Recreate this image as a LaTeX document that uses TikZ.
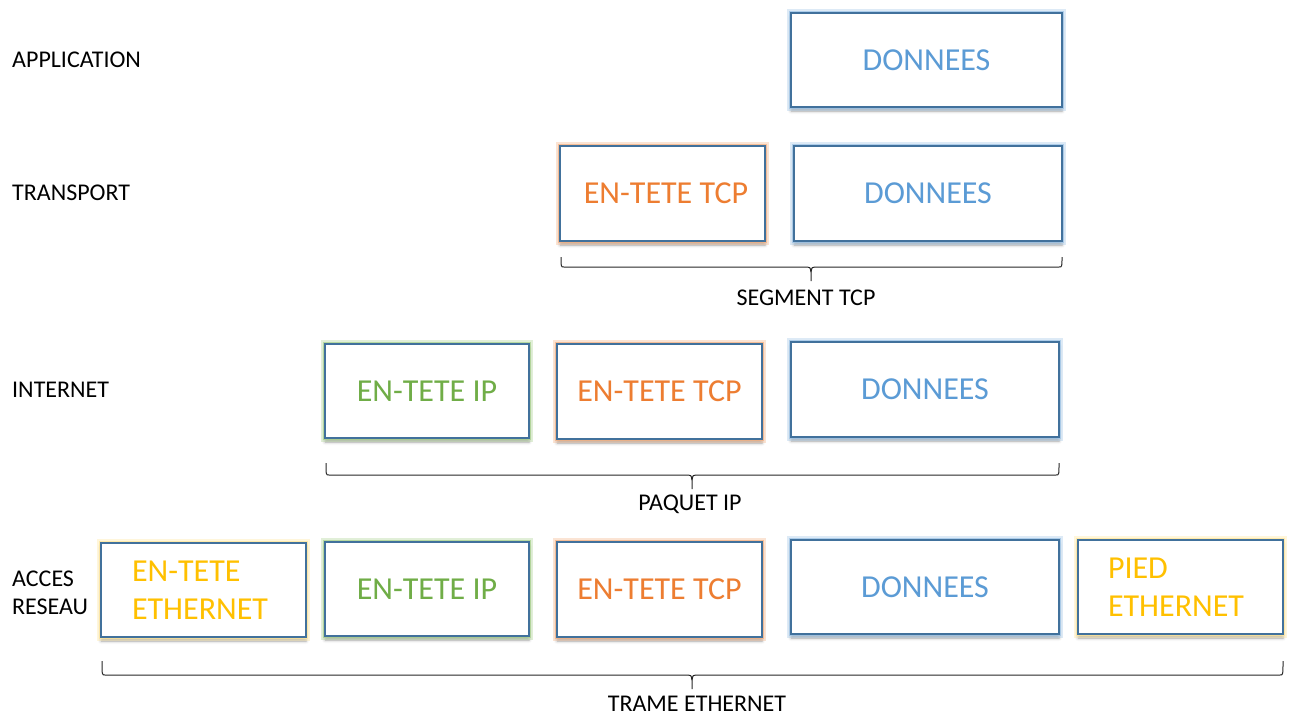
\documentclass[tikz,border=0pt]{standalone}
\usepackage{fontspec}
\setmainfont{Carlito}
\usetikzlibrary{shadows.blur}
\definecolor{cBlue}{HTML}{5B9BD5}
\definecolor{cOrange}{HTML}{ED7D31}
\definecolor{cGreen}{HTML}{70AD47}
\definecolor{cGold}{HTML}{FFC000}
\definecolor{cBorder}{HTML}{41719C}
\definecolor{cGlowBlue}{HTML}{9DC3E6}
\definecolor{cGlowOrange}{HTML}{F4B183}
\definecolor{cGlowGreen}{HTML}{A9D18E}
\definecolor{cGlowGold}{HTML}{FFE699}
\tikzset{
  box/.style={
    blur shadow={shadow xshift=0pt, shadow yshift=-4pt, shadow blur radius=3pt, shadow opacity=35},
    preaction={draw=#1, line width=8pt, draw opacity=0.35},
    preaction={draw=#1, line width=4.5pt, draw opacity=0.75},
    draw=cBorder, line width=1.1pt, fill=white, inner sep=0pt,
    font=\fontsize{32}{38}\selectfont},
  lbl/.style={inner sep=0pt, font=\fontsize{24}{28.5}\selectfont, text=black},
  bracel/.style={draw=black!85, line width=1pt}
}
\newcommand{\mybrace}[5]{% L R tipx liney topy
  \draw[bracel] (#1,#5) .. controls (#1,#4) and (#1,#4) .. (#1+3,#4) -- (#3-4,#4)
     .. controls (#3-1,#4) .. (#3,#4+5) -- (#3,#4+14);
  \draw[bracel] (#3,#4+5) .. controls (#3+1,#4) .. (#3+4,#4) -- (#2-3,#4)
     .. controls (#2,#4) and (#2,#4) .. (#2,#5);
}
\begin{document}
\begin{tikzpicture}[x=1pt,y=-1pt]
\useasboundingbox (0,0) rectangle (1298,724);
% left labels
\node[lbl, anchor=west] (lApp) at (12,60) {APPLICATION};
\node[lbl, anchor=west] (lTr) at (12,193) {TRANSPORT};
\node[lbl, anchor=west] (lIn) at (12,390) {INTERNET};
\node[lbl, anchor=west, align=left] (lAc) at (12,593) {ACCES\\RESEAU};
% application
\node[box=cGlowBlue, text=cBlue, minimum width=271pt, minimum height=94pt] (appD) at (926.5,60) {DONNEES};
% transport
\node[box=cGlowOrange, text=cOrange, minimum width=205pt, minimum height=95pt] (trT) at (662.5,193.5) {\hspace{7pt}EN-TETE TCP};
\node[box=cGlowBlue, text=cBlue, minimum width=268pt, minimum height=95pt] (trD) at (928,193.5) {DONNEES};
% internet
\node[box=cGlowGreen, text=cGreen, minimum width=204pt, minimum height=94pt] (inIP) at (427,391) {EN-TETE IP};
\node[box=cGlowOrange, text=cOrange, minimum width=205pt, minimum height=95pt] (inT) at (659.5,391.5) {EN-TETE TCP};
\node[box=cGlowBlue, text=cBlue, minimum width=268pt, minimum height=95pt] (inD) at (925,389.5) {DONNEES};
% acces reseau
\node[box=cGlowGold, text=cGold, minimum width=205pt, minimum height=94pt, align=left, text width=143pt] (acE) at (203.5,590) {EN-TETE\\ETHERNET};
\node[box=cGlowGreen, text=cGreen, minimum width=204pt, minimum height=94pt] (acIP) at (427,589) {EN-TETE IP};
\node[box=cGlowOrange, text=cOrange, minimum width=205pt, minimum height=95pt] (acT) at (659.5,589.5) {EN-TETE TCP};
\node[box=cGlowBlue, text=cBlue, minimum width=268pt, minimum height=94pt] (acD) at (925,587) {DONNEES};
\node[box=cGlowGold, text=cGold, minimum width=205pt, minimum height=94pt, align=left, text width=145pt] (acP) at (1180.5,587) {PIED\\ETHERNET};
% braces
\mybrace{561}{1062}{811}{267}{257}
\node[lbl] (bSeg) at (806,298) {SEGMENT TCP};
\mybrace{326}{1059}{692}{475}{463}
\node[lbl] (bPaq) at (690,504) {PAQUET IP};
\mybrace{102}{1283}{692}{675}{661}
\node[lbl] (bTr) at (697,704) {TRAME ETHERNET};
\end{tikzpicture}
\end{document}
